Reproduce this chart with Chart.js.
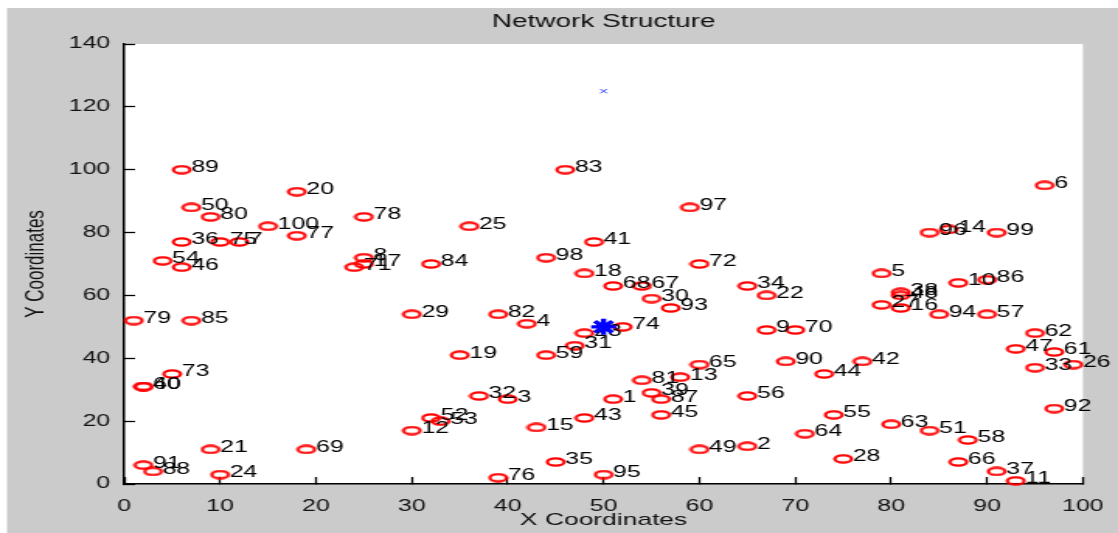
<!DOCTYPE html>
<html>
<head>
<meta charset="utf-8">
<title>Network Structure</title>
<script src="https://cdn.jsdelivr.net/npm/chart.js@4.4.1/dist/chart.umd.min.js"></script>
<style>
  html, body { margin: 0; padding: 0; background: #fff; overflow: hidden; }
  /* the source figure is stretched sideways, so the canvas is drawn narrow and widened by css */
  #net { display: block; width: 1118px !important; height: 533px !important; }
</style>
</head>
<body>
<canvas id="net" width="720" height="533" style="width:1118px;height:533px"></canvas>
<script>
// node numbers and their coordinates
const nodeIds = [
  1, 2, 3, 4, 5, 6, 7, 8, 9, 10,
  11, 12, 13, 14, 15, 16, 17, 18, 19, 20,
  21, 22, 23, 24, 25, 26, 27, 28, 29, 30,
  31, 32, 33, 34, 35, 36, 37, 38, 39, 40,
  41, 42, 43, 44, 45, 46, 47, 48, 49, 50,
  51, 52, 53, 54, 55, 56, 57, 58, 59, 60,
  61, 62, 63, 64, 65, 66, 67, 68, 69, 70,
  71, 72, 73, 74, 75, 76, 77, 78, 79, 80,
  81, 82, 83, 84, 85, 86, 87, 88, 89, 90,
  91, 92, 93, 94, 95, 96, 97, 98, 99, 100
];
const nodeX = [
  51, 65, 40, 42, 79, 96, 12, 25, 67, 87,
  93, 30, 58, 86, 43, 81, 25, 48, 35, 18,
  9, 67, 48, 10, 36, 99, 79, 75, 30, 55,
  47, 37, 95, 65, 45, 6, 91, 81, 55, 2,
  49, 77, 48, 73, 56, 6, 93, 81, 60, 7,
  84, 32, 33, 4, 74, 65, 90, 88, 44, 2,
  97, 95, 80, 71, 60, 87, 54, 51, 19, 70,
  24, 60, 5, 52, 10, 39, 18, 25, 1, 9,
  54, 39, 46, 32, 7, 90, 56, 3, 6, 69,
  2, 97, 57, 85, 50, 84, 59, 44, 91, 15
];
const nodeY = [
  27, 12, 27, 51, 67, 95, 77, 72, 49, 64,
  1, 17, 34, 81, 18, 56, 70, 67, 41, 93,
  11, 60, 48, 3, 82, 38, 57, 8, 54, 59,
  44, 28, 37, 63, 7, 77, 4, 61, 29, 31,
  77, 39, 21, 35, 22, 69, 43, 60, 11, 88,
  17, 21, 20, 71, 22, 28, 54, 14, 41, 31,
  42, 48, 19, 16, 38, 7, 63, 63, 11, 49,
  69, 70, 35, 50, 77, 2, 79, 85, 52, 85,
  33, 54, 100, 70, 52, 65, 27, 4, 100, 39,
  6, 24, 56, 54, 3, 80, 88, 72, 80, 82
];

// sink (blue star) and base station (blue x)
const sinkX = [50];
const sinkY = [50];
const baseX = [50];
const baseY = [125];

const xTicks = [0, 10, 20, 30, 40, 50, 60, 70, 80, 90, 100];
const yTicks = [0, 20, 40, 60, 80, 100, 120, 140];

Chart.defaults.font.family = '"Liberation Sans", Arial, sans-serif';

// flat red ring used as the node marker (the figure's circles look squashed)
const ring = document.createElement('canvas');
ring.width = 14;
ring.height = 10;
(() => {
  const c = ring.getContext('2d');
  c.strokeStyle = '#ff0000';
  c.lineWidth = 2.2;
  c.beginPath();
  c.ellipse(7, 5, 5.4, 3.6, 0, 0, Math.PI * 2);
  c.stroke();
})();

// grey figure with a white axes box
const frame = {
  id: 'frame',
  beforeDraw(chart) {
    const { ctx, chartArea: a, width, height } = chart;
    ctx.save();
    ctx.fillStyle = '#fff';
    ctx.fillRect(0, 0, width, height);
    ctx.fillStyle = '#cbcbcb';
    ctx.fillRect(4.5, 8, width, height);
    ctx.fillStyle = '#fff';
    ctx.fillRect(a.left, a.top, a.right - a.left, a.bottom - a.top);
    ctx.restore();
  }
};

// number next to every node, one unit to the right
const nodeLabels = {
  id: 'nodeLabels',
  afterDatasetDraw(chart, args) {
    if (args.index !== 1) return;
    const { ctx, scales: { x, y } } = chart;
    ctx.save();
    ctx.font = '16px "Liberation Sans", Arial, sans-serif';
    ctx.fillStyle = '#000';
    ctx.textBaseline = 'middle';
    nodeIds.forEach((id, i) => {
      ctx.fillText(String(id), x.getPixelForValue(nodeX[i] + 1), y.getPixelForValue(nodeY[i]) - 2);
    });
    ctx.restore();
  }
};

// no extra room for overhanging tick labels, the axes box is fixed
const noOverhang = s => {
  s.paddingLeft = 0;
  s.paddingRight = 0;
  s.paddingTop = 0;
  s.paddingBottom = 0;
};

new Chart(document.getElementById('net'), {
  type: 'scatter',
  data: {
    datasets: [
      {
        label: 'Sink',
        data: sinkX.map((x, i) => ({ x, y: sinkY[i] })),
        pointStyle: 'star',
        pointRadius: 8,
        borderColor: '#0000ff',
        backgroundColor: '#0000ff',
        borderWidth: 3.4,
        clip: false
      },
      {
        label: 'Nodes',
        data: nodeX.map((x, i) => ({ x, y: nodeY[i] })),
        pointStyle: ring,
        pointRadius: 5,
        clip: false
      },
      {
        label: 'Base station',
        data: baseX.map((x, i) => ({ x, y: baseY[i] })),
        pointStyle: 'crossRot',
        pointRadius: 3,
        borderColor: '#3344ff',
        borderWidth: 1,
        clip: false
      }
    ]
  },
  options: {
    responsive: false,
    animation: false,
    devicePixelRatio: 1,
    events: [],
    layout: { padding: { left: 0, right: 22.6, top: 0, bottom: 0 } },
    plugins: {
      legend: { display: false },
      tooltip: { enabled: false },
      title: {
        display: true,
        text: 'Network Structure',
        fullSize: false,
        color: '#111',
        font: { size: 18, weight: 'normal' },
        padding: { top: 11, bottom: 11.4 }
      }
    },
    scales: {
      x: {
        type: 'linear',
        min: 0,
        max: 100,
        afterBuildTicks: s => { s.ticks = xTicks.map(v => ({ value: v })); },
        afterFit: s => { s.height = 49; noOverhang(s); },
        border: { color: '#000', width: 1.5 },
        grid: { drawOnChartArea: false, tickLength: -7, tickWidth: 1.3, tickColor: '#000' },
        ticks: { padding: 20, color: '#111', font: { size: 16 }, autoSkip: false, maxRotation: 0 },
        title: { display: true, text: 'X Coordinates', color: '#111', font: { size: 17 }, padding: { top: 0, bottom: 2 } }
      },
      y: {
        type: 'linear',
        min: 0,
        max: 140,
        afterBuildTicks: s => { s.ticks = yTicks.map(v => ({ value: v })); },
        afterFit: s => { s.width = 80; noOverhang(s); },
        border: { color: '#000', width: 1.5 },
        grid: { drawOnChartArea: false, tickLength: -7, tickWidth: 1.3, tickColor: '#000' },
        ticks: { padding: 16, color: '#111', font: { size: 16 }, autoSkip: false },
        title: { display: true, text: 'Y Coordinates', color: '#111', font: { size: 17 }, padding: { top: 13, bottom: 0 } }
      }
    }
  },
  plugins: [frame, nodeLabels]
});
</script>
</body>
</html>
